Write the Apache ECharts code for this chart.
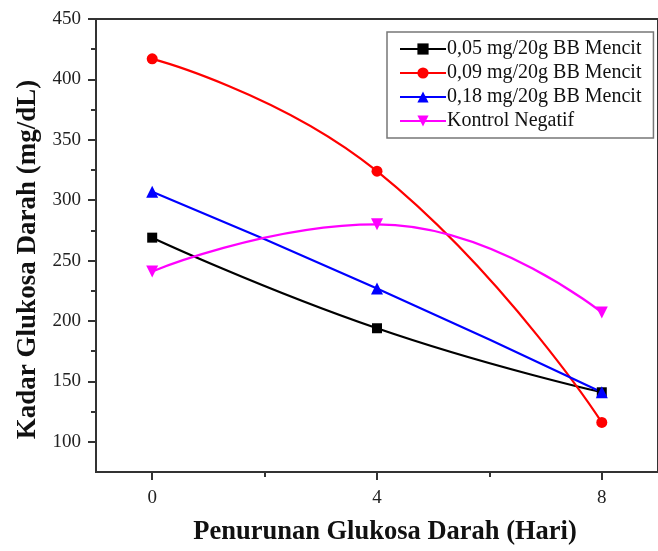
<!DOCTYPE html>
<html>
<head>
<meta charset="utf-8">
<script src="https://cdn.jsdelivr.net/npm/echarts@6/dist/echarts.min.js"></script>
<style>html,body{margin:0;padding:0;background:#fff;}#c{width:658px;height:551px;}</style>
</head>
<body>
<div id="c"></div>
<script>
var days = [0, 4, 8];
var seriesNames = ['0,05 mg/20g BB Mencit', '0,09 mg/20g BB Mencit', '0,18 mg/20g BB Mencit', 'Kontrol Negatif'];
var dose005 = [269, 194, 141];
var dose009 = [417, 324, 116];
var dose018 = [307, 227, 141];
var kontrol = [241, 280, 207];
var yMajorTicks = [100, 150, 200, 250, 300, 350, 400, 450];
var yMinorTicks = [125, 175, 225, 275, 325, 375, 425];
var xMajorTicks = [0, 4, 8];
var xMinorTicks = [2, 6];

var FONT = "'Liberation Serif', 'Times New Roman', serif";
function pairs(vals){ return days.map(function(d,i){ return [d, vals[i]]; }); }

var chart = echarts.init(document.getElementById('c'));
var axisColor = '#333';
var gridCfg = {left: 96, top: 19, width: 575, bottom: 78, show: true, borderColor: axisColor, borderWidth: 2, backgroundColor: 'transparent'};

function mk(name, vals, color, symbol, size, rot){
  return {
    name: name, type: 'line', data: pairs(vals), smooth: true,
    symbol: symbol, symbolSize: size, symbolRotate: rot || 0,
    lineStyle: {color: color, width: 2.2},
    itemStyle: {color: color},
    z: 3
  };
}

chart.setOption({
  animation: false,
  grid: gridCfg,
  legend: {
    orient: 'vertical', left: 387, top: 32,
    padding: [7, 12, 7, 12],
    borderColor: '#777', borderWidth: 1.5,
    itemWidth: 46, itemHeight: 14, itemGap: 4,
    textStyle: {fontFamily: FONT, fontSize: 20, color: '#111', padding: [0,0,0,-4]},
    data: seriesNames
  },
  xAxis: [{
    type: 'value', min: -1, max: 9,
    axisLine: {show: true, onZero: false, lineStyle: {color: axisColor, width: 2}},
    axisTick: {show: true, length: 8, customValues: xMajorTicks, lineStyle: {color: axisColor, width: 2}},
    axisLabel: {customValues: xMajorTicks, fontFamily: FONT, fontSize: 19, color: '#222', margin: 17},
    splitLine: {show: false},
    name: 'Penurunan Glukosa Darah (Hari)', nameLocation: 'middle', nameGap: 47,
    nameTextStyle: {fontFamily: FONT, fontSize: 26.5, fontWeight: 'bold', color: '#111', padding: [0, 0, 0, 16]}
  }, {
    type: 'value', min: -1, max: 9, position: 'bottom',
    axisLine: {show: false, onZero: false},
    axisTick: {show: true, length: 5, customValues: xMinorTicks, lineStyle: {color: axisColor, width: 2}},
    axisLabel: {show: false},
    splitLine: {show: false}
  }],
  yAxis: [{
    type: 'value', min: 75, max: 450,
    axisLine: {show: true, onZero: false, lineStyle: {color: axisColor, width: 2}},
    axisTick: {show: true, length: 8, customValues: yMajorTicks, lineStyle: {color: axisColor, width: 2}},
    axisLabel: {customValues: yMajorTicks, fontFamily: FONT, fontSize: 19, color: '#222', margin: 15},
    splitLine: {show: false},
    name: 'Kadar Glukosa Darah (mg/dL)', nameLocation: 'middle', nameGap: 54,
    nameTextStyle: {fontFamily: FONT, fontSize: 27, fontWeight: 'bold', color: '#111', padding: [0, 28, 0, 0]}
  }, {
    type: 'value', min: 75, max: 450, position: 'left',
    axisLine: {show: false, onZero: false},
    axisTick: {show: true, length: 5, customValues: yMinorTicks, lineStyle: {color: axisColor, width: 2}},
    axisLabel: {show: false},
    splitLine: {show: false}
  }],
  series: [
    mk(seriesNames[0], dose005, '#000000', 'rect', 10),
    mk(seriesNames[1], dose009, '#ff0000', 'circle', 11),
    mk(seriesNames[2], dose018, '#0000ff', 'triangle', 12),
    mk(seriesNames[3], kontrol, '#ff00ff', 'triangle', 12, 180)
  ]
});
</script>
</body>
</html>
